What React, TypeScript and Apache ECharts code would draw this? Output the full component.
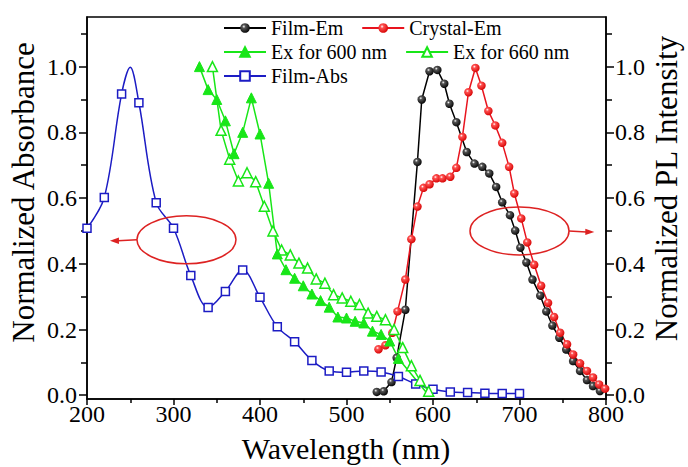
import React, { useEffect, useRef } from 'react';
import * as echarts from 'echarts';

const FONT = 'Liberation Serif';

// ---------- axis ticks ----------
const xMin = 200;
const xMax = 800;
const xInterval = 100;
const yMin = -0.0115;
const yMax = 1.151;
const yMajorTicks = [0, 0.2, 0.4, 0.6, 0.8, 1.0];
const yMinorTicks = [0.1, 0.3, 0.5, 0.7, 0.9, 1.1];

// ---------- series data ----------
const filmEmX = [535, 543, 552, 558, 568, 582, 587, 596, 605, 613, 619, 627, 639, 648, 657, 665, 673, 680, 689, 695, 701, 708, 715, 724, 731, 738, 746, 754, 762, 770, 778, 785, 793];
const filmEmY = [0.010, 0.012, 0.040, 0.114, 0.260, 0.710, 0.900, 0.986, 0.990, 0.948, 0.887, 0.831, 0.740, 0.705, 0.695, 0.675, 0.634, 0.587, 0.548, 0.501, 0.449, 0.404, 0.352, 0.303, 0.255, 0.212, 0.175, 0.139, 0.104, 0.074, 0.046, 0.028, 0.013];

const crystalEmX = [537, 545, 553, 559, 568, 575, 582, 589, 596, 604, 611, 620, 627, 634, 641, 649, 656, 664, 672, 680, 688, 694, 702, 709, 717, 725, 733, 740, 747, 755, 762, 770, 778, 785, 792, 799];
const crystalEmY = [0.140, 0.152, 0.190, 0.255, 0.352, 0.475, 0.574, 0.631, 0.642, 0.660, 0.660, 0.665, 0.692, 0.786, 0.922, 0.996, 0.942, 0.865, 0.821, 0.768, 0.695, 0.614, 0.538, 0.465, 0.397, 0.333, 0.281, 0.238, 0.190, 0.155, 0.124, 0.097, 0.074, 0.054, 0.033, 0.020];

const ex600X = [330, 340, 350, 360, 370, 380, 390, 400, 410, 420, 430, 440, 450, 460, 470, 480, 490, 500, 510, 520, 530, 540, 550, 560, 595];
const ex600Y = [1.000, 0.930, 0.900, 0.835, 0.735, 0.800, 0.905, 0.795, 0.645, 0.430, 0.382, 0.356, 0.333, 0.308, 0.288, 0.268, 0.238, 0.235, 0.225, 0.220, 0.195, 0.185, 0.165, 0.112, 0.000];
const ex600Unmarked = [595];

const ex660X = [345, 355, 365, 375, 385, 395, 405, 415, 425, 435, 445, 455, 465, 475, 485, 495, 505, 515, 525, 535, 545, 555, 565, 575, 585, 595];
const ex660Y = [1.000, 0.806, 0.718, 0.652, 0.677, 0.650, 0.575, 0.500, 0.442, 0.427, 0.402, 0.387, 0.354, 0.341, 0.306, 0.296, 0.286, 0.276, 0.250, 0.240, 0.230, 0.200, 0.145, 0.090, 0.045, 0.012];

const filmAbsX = [200, 220, 240, 250, 260, 280, 300, 320, 340, 360, 380, 400, 420, 440, 460, 480, 500, 520, 540, 560, 580, 600, 620, 640, 660, 680, 700];
const filmAbsY = [0.508, 0.602, 0.917, 0.998, 0.890, 0.586, 0.508, 0.364, 0.267, 0.316, 0.381, 0.298, 0.208, 0.163, 0.106, 0.074, 0.070, 0.074, 0.071, 0.057, 0.034, 0.018, 0.010, 0.008, 0.006, 0.005, 0.005];
const filmAbsUnmarked = [250];

// annotation anchors in data coordinates: [x, y]
const leftEllipseCenter = [315, 0.473];
const leftArrowTip = [226.5, 0.47];
const rightEllipseCenter = [700, 0.5];
const rightArrowTip = [786.5, 0.497];

const BLACK = '#000000';
const RED = '#e8141e';
const GREEN = '#18e618';
const BLUE = '#1c1cc4';

function pairs(xs: number[], ys: number[], unmarked: number[] = []) {
  return xs.map((x, i) =>
    unmarked.indexOf(x) >= 0 ? { value: [x, ys[i]], symbol: 'none' } : { value: [x, ys[i]] }
  );
}

function sphere(base: string, mid: string) {
  return {
    type: 'radial',
    x: 0.38,
    y: 0.35,
    r: 0.7,
    colorStops: [
      { offset: 0, color: '#ffffff' },
      { offset: 0.25, color: mid },
      { offset: 1, color: base },
    ],
  };
}

export default function App() {
  const ref = useRef<HTMLDivElement>(null);

  useEffect(() => {
    document.body.style.margin = '0';
    const el = ref.current!;
    const chart = echarts.init(el, null, { renderer: 'svg' });

    const axisLineStyle = { color: '#000', width: 1.5 };
    const labelStyle = { fontSize: 24, color: '#000', fontFamily: FONT };
    const yBase = {
      type: 'value',
      min: yMin,
      max: yMax,
      splitLine: { show: false },
    };

    const option: any = {
      animation: false,
      backgroundColor: '#ffffff',
      textStyle: { fontFamily: FONT },
      grid: {
        left: 87,
        right: 82,
        top: 17,
        bottom: 68,
        containLabel: false,
        outerBoundsMode: 'none',
        show: true,
        borderColor: '#000',
        borderWidth: 1.5,
        backgroundColor: 'transparent',
      },
      legend: [
        {
          data: ['Film-Em', 'Crystal-Em'],
          left: 223,
          top: 18,
        },
        {
          data: ['Ex for 600 nm', 'Ex for 660 nm'],
          left: 223,
          top: 42,
        },
        {
          data: ['Film-Abs'],
          left: 223,
          top: 66,
        },
      ].map((l) => ({
        ...l,
        orient: 'horizontal',
        padding: 0,
        itemWidth: 42,
        itemHeight: 12,
        itemGap: 18,
        selectedMode: false,
        textStyle: { fontSize: 20, color: '#000', fontFamily: FONT, lineHeight: 20 },
      })),
      xAxis: [
        {
          type: 'value',
          min: xMin,
          max: xMax,
          interval: xInterval,
          splitLine: { show: false },
          axisLine: { show: true, onZero: false, lineStyle: axisLineStyle },
          axisTick: { show: true, length: 6, lineStyle: axisLineStyle },
          minorTick: { show: true, splitNumber: 2, length: 4, lineStyle: axisLineStyle },
          axisLabel: { ...labelStyle, margin: 3 },
        },
      ],
      yAxis: [
        {
          ...yBase,
          position: 'left',
          axisLine: { show: true, onZero: false, lineStyle: axisLineStyle },
          axisTick: { show: true, length: 8, lineStyle: axisLineStyle, customValues: yMajorTicks },
          axisLabel: {
            ...labelStyle,
            margin: 10,
            customValues: yMajorTicks,
            formatter: (v: number) => v.toFixed(1),
          },
        },
        {
          ...yBase,
          position: 'left',
          axisLine: { show: false, onZero: false },
          axisTick: { show: true, length: 6, lineStyle: axisLineStyle, customValues: yMinorTicks },
          axisLabel: { show: false },
        },
        {
          ...yBase,
          position: 'right',
          axisLine: { show: true, onZero: false, lineStyle: axisLineStyle },
          axisTick: { show: true, length: 8, lineStyle: axisLineStyle, customValues: yMajorTicks },
          axisLabel: {
            ...labelStyle,
            margin: 9,
            customValues: yMajorTicks,
            formatter: (v: number) => v.toFixed(1),
          },
        },
        {
          ...yBase,
          position: 'right',
          axisLine: { show: false, onZero: false },
          axisTick: { show: true, length: 6, lineStyle: axisLineStyle, customValues: yMinorTicks },
          axisLabel: { show: false },
        },
      ],
      series: [
        {
          name: 'Film-Em',
          type: 'line',
          data: pairs(filmEmX, filmEmY),
          symbol: 'circle',
          symbolSize: 8.5,
          lineStyle: { color: BLACK, width: 1.5 },
          itemStyle: { color: sphere('#000000', '#555555'), borderWidth: 0 },
        },
        {
          name: 'Crystal-Em',
          type: 'line',
          data: pairs(crystalEmX, crystalEmY),
          symbol: 'circle',
          symbolSize: 8.5,
          lineStyle: { color: RED, width: 1.5 },
          itemStyle: { color: sphere('#d40000', '#ff5050'), borderWidth: 0 },
        },
        {
          name: 'Film-Abs',
          type: 'line',
          data: pairs(filmAbsX, filmAbsY, filmAbsUnmarked),
          smooth: 0.35,
          symbol: 'rect',
          symbolSize: 8,
          lineStyle: { color: BLUE, width: 1.5 },
          itemStyle: { color: '#ffffff', borderColor: BLUE, borderWidth: 1.5 },
        },
        {
          name: 'Ex for 660 nm',
          type: 'line',
          data: pairs(ex660X, ex660Y),
          symbol: 'triangle',
          symbolSize: 10,
          lineStyle: { color: GREEN, width: 1.5 },
          itemStyle: { color: '#ffffff', borderColor: GREEN, borderWidth: 1.5 },
        },
        {
          name: 'Ex for 600 nm',
          type: 'line',
          data: pairs(ex600X, ex600Y, ex600Unmarked),
          symbol: 'triangle',
          symbolSize: 10,
          lineStyle: { color: GREEN, width: 1.5 },
          itemStyle: { color: GREEN, borderColor: GREEN, borderWidth: 1 },
        },
      ],
    };

    chart.setOption(option);

    const toPx = (p: number[]) =>
      chart.convertToPixel({ xAxisIndex: 0, yAxisIndex: 0 }, p) as number[];

    const RX = 49.5;
    const RY = 24;
    const annoColor = '#dd2222';
    const head = 9;
    const halfW = 3.2;

    const lc = toPx(leftEllipseCenter);
    const lt = toPx(leftArrowTip);
    const rc = toPx(rightEllipseCenter);
    const rt = toPx(rightArrowTip);

    const titleStyle = (text: string, size: number) => ({
      text,
      fontSize: size,
      fontFamily: FONT,
      fill: '#000',
      align: 'center',
      verticalAlign: 'middle',
      textAlign: 'center',
      textVerticalAlign: 'middle',
    });

    chart.setOption({
      graphic: [
        {
          type: 'ellipse',
          shape: { cx: lc[0], cy: lc[1], rx: RX, ry: RY },
          style: { fill: 'none', stroke: annoColor, lineWidth: 1.5 },
          z: 100,
        },
        {
          type: 'line',
          shape: { x1: lc[0] - RX, y1: lc[1], x2: lt[0] + head - 1, y2: lt[1] },
          style: { stroke: annoColor, lineWidth: 1.5 },
          z: 100,
        },
        {
          type: 'polygon',
          shape: {
            points: [
              [lt[0], lt[1]],
              [lt[0] + head, lt[1] - halfW],
              [lt[0] + head, lt[1] + halfW],
            ],
          },
          style: { fill: annoColor },
          z: 100,
        },
        {
          type: 'ellipse',
          shape: { cx: rc[0], cy: rc[1], rx: RX, ry: RY },
          style: { fill: 'none', stroke: annoColor, lineWidth: 1.5 },
          z: 100,
        },
        {
          type: 'line',
          shape: { x1: rc[0] + RX, y1: rc[1], x2: rt[0] - head + 1, y2: rt[1] },
          style: { stroke: annoColor, lineWidth: 1.5 },
          z: 100,
        },
        {
          type: 'polygon',
          shape: {
            points: [
              [rt[0], rt[1]],
              [rt[0] - head, rt[1] - halfW],
              [rt[0] - head, rt[1] + halfW],
            ],
          },
          style: { fill: annoColor },
          z: 100,
        },
        {
          type: 'text',
          x: 23.5,
          y: 192.5,
          rotation: Math.PI / 2,
          style: titleStyle('Normalized Absorbance', 31),
        },
        {
          type: 'text',
          x: 666.5,
          y: 188.5,
          rotation: Math.PI / 2,
          style: titleStyle('Normalized PL Intensity', 31),
        },
        {
          type: 'text',
          x: 346,
          y: 448,
          style: titleStyle('Wavelength (nm)', 30),
        },
      ],
    });

    return () => {
      chart.dispose();
    };
  }, []);

  return (
    <div
      ref={ref}
      style={{ position: 'fixed', left: 0, top: 0, width: 688, height: 467, background: '#fff' }}
    />
  );
}
